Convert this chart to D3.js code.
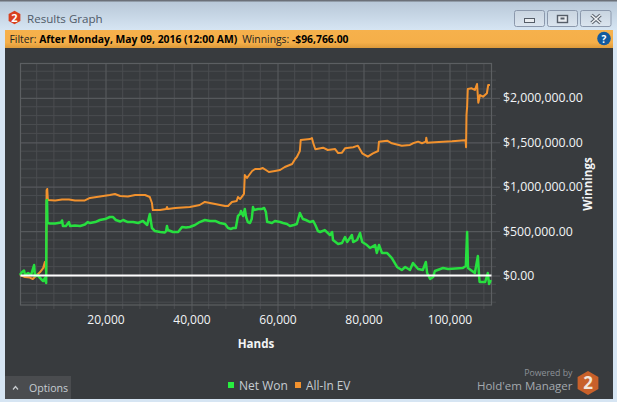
<!DOCTYPE html>
<html><head><meta charset="utf-8">
<script src="https://cdnjs.cloudflare.com/ajax/libs/d3/7.8.5/d3.min.js"></script>
<style>html,body{margin:0;padding:0;background:#d6e4f2;overflow:hidden}svg{display:block}text{font-family:"Open Sans","Noto Sans",sans-serif}</style>
</head><body><svg id="c" width="617" height="402"></svg>
<script>
const title="Results Graph";
const xTicks=[20000,40000,60000,80000,100000];
const xMinor=[4000,8000,12000,16000,24000,28000,32000,36000,44000,48000,52000,56000,64000,68000,72000,76000,84000,88000,92000,96000,104000,108000];
const yTicks=[0,500000,1000000,1500000,2000000];
const yMinor=[-300000,-200000,-100000,100000,200000,300000,400000,600000,700000,800000,900000,1100000,1200000,1300000,1400000,1600000,1700000,1800000,1900000,2100000,2200000,2300000];
const netHands=[100,600,1050,1300,2000,2700,3400,3600,4100,4800,5500,5900,6200,6300,6400,6500,7100,8300,9650,9900,10100,10800,11500,11750,12900,14100,15200,15900,16400,17600,18700,19900,21000,21700,22400,23400,24100,25200,26400,27600,28700,29700,30300,30800,31500,32700,33800,34100,34300,34500,35700,36900,37800,38700,39600,40800,41900,43100,44300,45500,46600,47800,48500,49200,49700,50300,50800,51300,51500,52000,52400,52700,53100,53600,54000,54300,54500,55500,56400,56900,57300,57600,57800,58700,59400,60600,61300,62200,62900,63800,64500,65200,65900,66600,67600,68300,68800,69400,69900,71000,72200,72700,72900,74100,75000,75700,76200,77300,77600,78500,79200,79700,80800,81500,82700,83100,83600,84300,85500,86600,87800,88900,89700,90800,91500,92700,93800,94500,94800,95500,96200,96600,98500,99700,103100,103800,104100,104300,105900,106600,106900,107000,108300,108900,109200,109600];
const netWon=[6,39,56,6,28,6,118,-6,6,-28,-62,-28,-84,845,850,591,586,586,597,620,557,557,602,557,563,557,574,602,591,602,625,636,659,659,625,608,625,602,602,591,614,569,693,535,501,490,484,501,557,512,490,490,546,540,546,569,602,625,614,614,591,580,535,524,535,535,670,693,726,670,749,659,602,591,636,771,737,749,749,760,715,602,602,591,614,602,591,580,557,569,580,704,636,625,602,614,569,501,490,512,456,490,400,355,366,433,377,456,377,400,479,377,343,310,343,253,343,253,253,197,96,62,96,62,141,73,62,152,28,-39,-17,51,84,73,84,107,490,84,28,220,-17,-73,-73,28,-96,-51];
const evHands=[100,1300,2400,3100,3800,4800,5500,5900,6200,6300,6450,6600,8300,9900,11500,12900,15200,16400,18700,21000,22200,23400,25200,26900,29200,30300,30800,31000,32700,34100,34300,34500,36200,39600,40800,41900,43100,45500,47800,48500,49400,50500,50800,51300,52000,52200,52400,52900,54100,54800,55900,56600,57300,58000,59400,60600,61700,63400,64100,64500,65200,65400,67600,68000,68300,68800,70600,71700,73400,74100,75000,75700,77600,78700,79700,81000,82200,83400,83600,85500,86600,88900,90800,91500,92700,93600,94500,94600,94800,96600,98500,100600,103600,103750,103850,103950,104100,104250,105150,105900,106400,106700,107100,107800,108700,109000,109400];
const allInEV=[6,-17,-23,-39,-6,39,84,152,39,960,974,850,845,856,856,845,845,873,890,906,918,895,890,906,906,884,816,737,737,749,771,749,760,771,783,794,828,805,783,783,828,839,884,861,906,918,1132,1098,1177,1199,1199,1210,1188,1165,1177,1188,1222,1256,1312,1334,1402,1526,1537,1548,1492,1421,1439,1413,1424,1379,1383,1432,1444,1462,1376,1338,1376,1402,1507,1518,1489,1462,1470,1489,1507,1489,1507,1552,1495,1500,1507,1511,1522,1522,1444,1807,1901,2100,2108,2089,2156,1946,2032,2013,2052,2145,2145];

const svg=d3.select("#c");
const defs=svg.append("defs");
function grad(id,stops){const g=defs.append("linearGradient").attr("id",id).attr("x1",0).attr("y1",0).attr("x2",0).attr("y2",1);
 stops.forEach(([o,c])=>g.append("stop").attr("offset",o).attr("stop-color",c));}
grad("win",[[0,"#b6c6d6"],[1,"#d6e5f3"]]);
grad("bar",[[0,"#f6b14c"],[.7,"#f5af49"],[1,"#dd9a3a"]]);
grad("btn",[[0,"#c8d4e0"],[1,"#dbe5ef"]]);

svg.append("rect").attr("width",617).attr("height",402).attr("fill","#d6e5f3");
svg.append("rect").attr("width",617).attr("height",30).attr("fill","url(#win)");
svg.append("rect").attr("width",617).attr("height",1.5).attr("fill","#6b7078");
svg.append("rect").attr("x",5).attr("y",30).attr("width",608).attr("height",18).attr("fill","url(#bar)");
svg.append("rect").attr("x",5).attr("y",48).attr("width",608).attr("height",351).attr("fill","#383b3e");

// title + logo
function hex(cx,cy,r){return d3.range(6).map(i=>{const a=Math.PI/3*i+Math.PI/6;return [cx+r*Math.cos(a),cy+r*Math.sin(a)].join(",")}).join(" ");}
svg.append("polygon").attr("points",hex(14.5,17.5,6.8)).attr("fill","#d8401f");
svg.append("text").attr("x",14.5).attr("y",21.5).attr("text-anchor","middle").attr("font-size",11).attr("font-weight",700).attr("fill","#fff").text("2");
svg.append("text").attr("x",27).attr("y",23).attr("font-size",11.6).attr("fill","#4f5a68").text(title);

// window buttons
[[514.5,30],[547.5,30],[580.5,30.5]].forEach(([x,w])=>svg.append("rect").attr("x",x).attr("y",10.5).attr("width",w).attr("height",16).attr("rx",2).attr("fill","url(#btn)").attr("stroke","#8b98ac"));
svg.append("rect").attr("x",524.5).attr("y",18.5).attr("width",10).attr("height",4).attr("fill","#e8ecf0").attr("stroke","#555d68");
svg.append("rect").attr("x",557.5).attr("y",15.5).attr("width",10).attr("height",7).attr("fill","#e8ecf0").attr("stroke","#555d68").attr("stroke-width",1.4);
svg.append("rect").attr("x",560.5).attr("y",17.5).attr("width",4).attr("height",2).attr("fill","#555d68");
svg.append("path").attr("d","M591.5 15L600.5 23M600.5 15L591.5 23").attr("stroke","#555d68").attr("stroke-width",3.4);
svg.append("path").attr("d","M591.5 15L600.5 23M600.5 15L591.5 23").attr("stroke","#eef1f4").attr("stroke-width",1.6);

// filter bar
const ft=svg.append("text").attr("x",9.5).attr("y",43).attr("font-size",10.35).attr("fill","#222");
ft.append("tspan").text("Filter: ");
ft.append("tspan").attr("font-weight",700).attr("fill","#000").text("After Monday, May 09, 2016 (12:00 AM)");
ft.append("tspan").attr("dx",5).text("Winnings: ");
ft.append("tspan").attr("font-weight",700).attr("fill","#000").text("-$96,766.00");
svg.append("circle").attr("cx",604).attr("cy",38.5).attr("r",6.8).attr("fill","#135a9e");
svg.append("text").attr("x",604).attr("y",42.5).attr("text-anchor","middle").attr("font-size",10).attr("font-weight",700).attr("fill","#fff").text("?");

// scales
const x=d3.scaleLinear().domain([233,109767]).range([20.5,491.5]);
const y=d3.scaleLinear().domain([-332000,2387000]).range([305,63.5]);
const gridC="#4a4d50", majC="#56595c";
const g=svg.append("g");
xMinor.forEach(v=>g.append("line").attr("x1",x(v)).attr("x2",x(v)).attr("y1",63.5).attr("y2",309).attr("stroke",gridC).attr("stroke-width",1));
yMinor.forEach(v=>g.append("line").attr("y1",y(v)).attr("y2",y(v)).attr("x1",20.5).attr("x2",496).attr("stroke",gridC).attr("stroke-width",1));

const ax=svg.append("g").attr("transform","translate(0,305)").call(d3.axisBottom(x).tickValues(xTicks).tickSize(-241.5).tickPadding(-241.5).tickFormat(""));
ax.select(".domain").remove();ax.selectAll("line").attr("stroke",majC).attr("stroke-width",1.2);
const ax2=svg.append("g").attr("transform","translate(0,305)").call(d3.axisBottom(x).tickValues(xTicks).tickSize(8).tickPadding(2).tickFormat(d3.format(",")));
ax2.select(".domain").remove();ax2.selectAll("line").attr("stroke",majC);
ax2.selectAll("text").attr("font-size",12).attr("fill","#f2f4f6").attr("font-family",'"Open Sans"').attr("dy","0.75em");
const ay=svg.append("g").attr("transform","translate(491.5,0)").call(d3.axisRight(y).tickValues(yTicks).tickSize(8.5).tickPadding(3).tickFormat(d=>"$"+d3.format(",.2f")(d)));
ay.select(".domain").remove();ay.selectAll("line").attr("stroke",majC);
ay.selectAll("text").attr("font-size",12.3).attr("fill","#f2f4f6").attr("font-family",'"Open Sans"');
const ay2=svg.append("g").attr("transform","translate(491.5,0)").call(d3.axisLeft(y).tickValues(yTicks).tickSize(471).tickFormat(""));
ay2.select(".domain").remove();ay2.selectAll("line").attr("stroke",majC).attr("stroke-width",1.2);
svg.append("rect").attr("x",20.5).attr("y",63.5).attr("width",471).attr("height",241.5).attr("fill","none").attr("stroke","#5c5f62").attr("stroke-width",1.2);

// series
const line=d3.line().x(d=>x(d[0])).y(d=>y(d[1]*1000));
svg.append("path").datum(d3.zip(evHands,allInEV)).attr("d",line).attr("fill","none").attr("stroke","#f2922e").attr("stroke-width",2).attr("stroke-linejoin","round");
svg.append("path").datum(d3.zip(netHands,netWon)).attr("d",line).attr("fill","none").attr("stroke","#27df3f").attr("stroke-width",2.5).attr("stroke-linejoin","round");
svg.append("line").attr("x1",20.5).attr("x2",491.5).attr("y1",y(0)).attr("y2",y(0)).attr("stroke","#fff").attr("stroke-width",2);

// axis titles
svg.append("text").attr("x",256).attr("y",348).attr("text-anchor","middle").attr("font-size",11.6).attr("font-weight",700).attr("fill","#f2f4f6").text("Hands");
svg.append("text").attr("transform","translate(592,184) rotate(-90)").attr("text-anchor","middle").attr("font-size",11.6).attr("font-weight",700).attr("fill","#f2f4f6").text("Winnings");

// options
svg.append("rect").attr("x",5).attr("y",376).attr("width",66).attr("height",23).attr("fill","#4a4c4f");
svg.append("path").attr("d","M13 389.5L15.5 386.5L18 389.5").attr("fill","none").attr("stroke","#c8ccd0").attr("stroke-width",1.2);
svg.append("text").attr("x",29).attr("y",392).attr("font-size",10.6).attr("fill","#c6ccd2").text("Options");

// legend
svg.append("rect").attr("x",228).attr("y",382).attr("width",6).attr("height",6).attr("fill","#27ee3f");
svg.append("text").attr("x",239).attr("y",390).attr("font-size",12).attr("fill","#c6ccd2").text("Net Won");
svg.append("rect").attr("x",295).attr("y",382).attr("width",6).attr("height",6).attr("fill","#f2922e");
svg.append("text").attr("x",306).attr("y",390).attr("font-size",11.8).attr("fill","#c6ccd2").text("All-In EV");

// brand
svg.append("text").attr("x",572.5).attr("y",376).attr("text-anchor","end").attr("font-size",8.8).attr("fill","#8d9298").text("Powered by");
svg.append("text").attr("x",572.5).attr("y",390).attr("text-anchor","end").attr("font-size",11.5).attr("fill","#a4a9ae").text("Hold'em Manager");
svg.append("polygon").attr("points",hex(588,383,12)).attr("fill","#c8602a");
svg.append("text").attr("x",588).attr("y",389).attr("text-anchor","middle").attr("font-size",17).attr("font-weight",700).attr("fill","#f2e6dc").text("2");
</script></body></html>
